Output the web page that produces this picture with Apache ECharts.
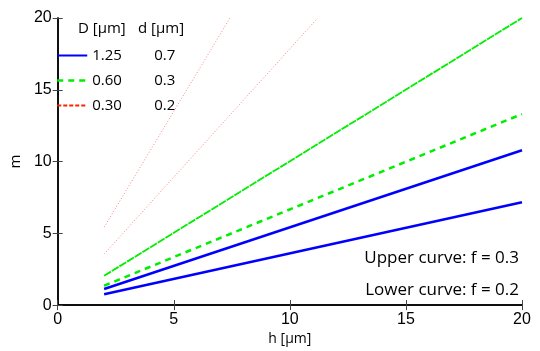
<!DOCTYPE html>
<html>
<head>
<meta charset="utf-8">
<script src="https://cdn.jsdelivr.net/npm/echarts@6/dist/echarts.min.js"></script>
<style>
  html, body { margin: 0; padding: 0; background: #fff; }
  #chart { width: 540px; height: 351px; }
</style>
</head>
<body>
<div id="chart"></div>
<script>
// legend table values
const bigD = ['1.25', '0.60', '0.30']
const smallD = ['0.7', '0.3', '0.2']

// [h, m] end points (all curves are straight lines)
const blueUpper = [[2, 1.12], [20, 10.79]]
const blueLower = [[2, 0.76], [20, 7.17]]
const greenUpper = [[2, 2.04], [20, 20]]
const greenLower = [[2, 1.35], [20, 13.31]]
const redUpper = [[2, 5.43], [7.42, 20]]
const redLower = [[2, 3.55], [11.2, 20]]

const xTicks = [0, 5, 10, 15, 20]
const yTicks = [0, 5, 10, 15, 20]

const chart = echarts.init(document.getElementById('chart'))

const tickFont = { color: '#000', fontSize: 16, fontFamily: 'Liberation Sans' }
const boxAxis = {
  axisLine: { show: true, lineStyle: { color: '#000', width: 1.5 } },
  axisTick: { show: true, inside: true, length: 5, lineStyle: { color: '#444' } },
  splitLine: { show: false },
  min: 0, max: 20, interval: 5
}

const lineSeries = (name, data, color, type, width) => ({
  name, type: 'line', data,
  symbol: 'none', silent: true,
  clip: true,
  itemStyle: { color },
  lineStyle: { color, type, width }
})

const option = {
  animation: false,
  backgroundColor: '#fff',
  grid: { left: 53, right: 18, top: 18, bottom: 42 },
  xAxis: [
    {
      ...boxAxis, type: 'value', position: 'bottom',
      name: 'h [µm]', nameLocation: 'middle', nameGap: 25,
      nameTextStyle: { color: '#000', fontSize: 14, fontFamily: 'Open Sans' },
      axisLabel: { ...tickFont, margin: 6, formatter: v => xTicks.includes(v) ? v : '' }
    },
    { ...boxAxis, type: 'value', position: 'top', axisLabel: { show: false } }
  ],
  yAxis: [
    {
      ...boxAxis, type: 'value', position: 'left',
      name: 'm', nameLocation: 'middle', nameGap: 26, nameRotate: 90,
      nameTextStyle: { color: '#000', fontSize: 15, fontFamily: 'Open Sans' },
      axisLabel: { ...tickFont, margin: 6, formatter: v => yTicks.includes(v) ? v : '' }
    },
    { ...boxAxis, type: 'value', position: 'right', axisLabel: { show: false } }
  ],
  legend: {
    orient: 'vertical', left: 51, top: 43,
    itemWidth: 30, itemHeight: 12, itemGap: 10,
    itemStyle: { opacity: 0 },
    textStyle: {
      color: '#000', fontSize: 15, fontFamily: 'Open Sans',
      rich: {
        a: { width: 62, fontSize: 15, fontFamily: 'Open Sans', color: '#000' },
        b: { fontSize: 15, fontFamily: 'Open Sans', color: '#000' }
      }
    },
    formatter: name => '{a|' + name + '}{b|' + smallD[bigD.indexOf(name)] + '}',
    data: [
      { name: bigD[0], lineStyle: { color: '#0000ff', width: 2, type: 'solid' } },
      { name: bigD[1], lineStyle: { color: '#00ee00', width: 2.5, type: [6, 5] } },
      { name: bigD[2], lineStyle: { color: '#ff2000', width: 2, type: [4, 2] } }
    ]
  },
  graphic: [
    { type: 'text', left: 78, top: 21, style: { text: 'D [µm]', fill: '#000', font: '15px "Open Sans"' } },
    { type: 'text', left: 138, top: 21, style: { text: 'd [µm]', fill: '#000', font: '15px "Open Sans"' } },
    { type: 'text', right: 21, top: 250, style: { text: 'Upper curve: f = 0.3', fill: '#000', font: '17px "Open Sans"', align: 'right' } },
    { type: 'text', right: 21, top: 282, style: { text: 'Lower curve: f = 0.2', fill: '#000', font: '17px "Open Sans"', align: 'right' } }
  ],
  series: [
    lineSeries(bigD[2], redUpper, '#ff8080', [1, 2], 1),
    lineSeries(bigD[2], redLower, '#ff8080', [1, 2], 1),
    lineSeries(bigD[1], greenUpper, '#00ee00', [8, 1], 1.8),
    lineSeries(bigD[1], greenLower, '#00ee00', [6, 5], 2.5),
    lineSeries(bigD[0], blueUpper, '#0000ff', 'solid', 2.5),
    lineSeries(bigD[0], blueLower, '#0000ff', 'solid', 2.5)
  ]
}

chart.setOption(option)
</script>
</body>
</html>
